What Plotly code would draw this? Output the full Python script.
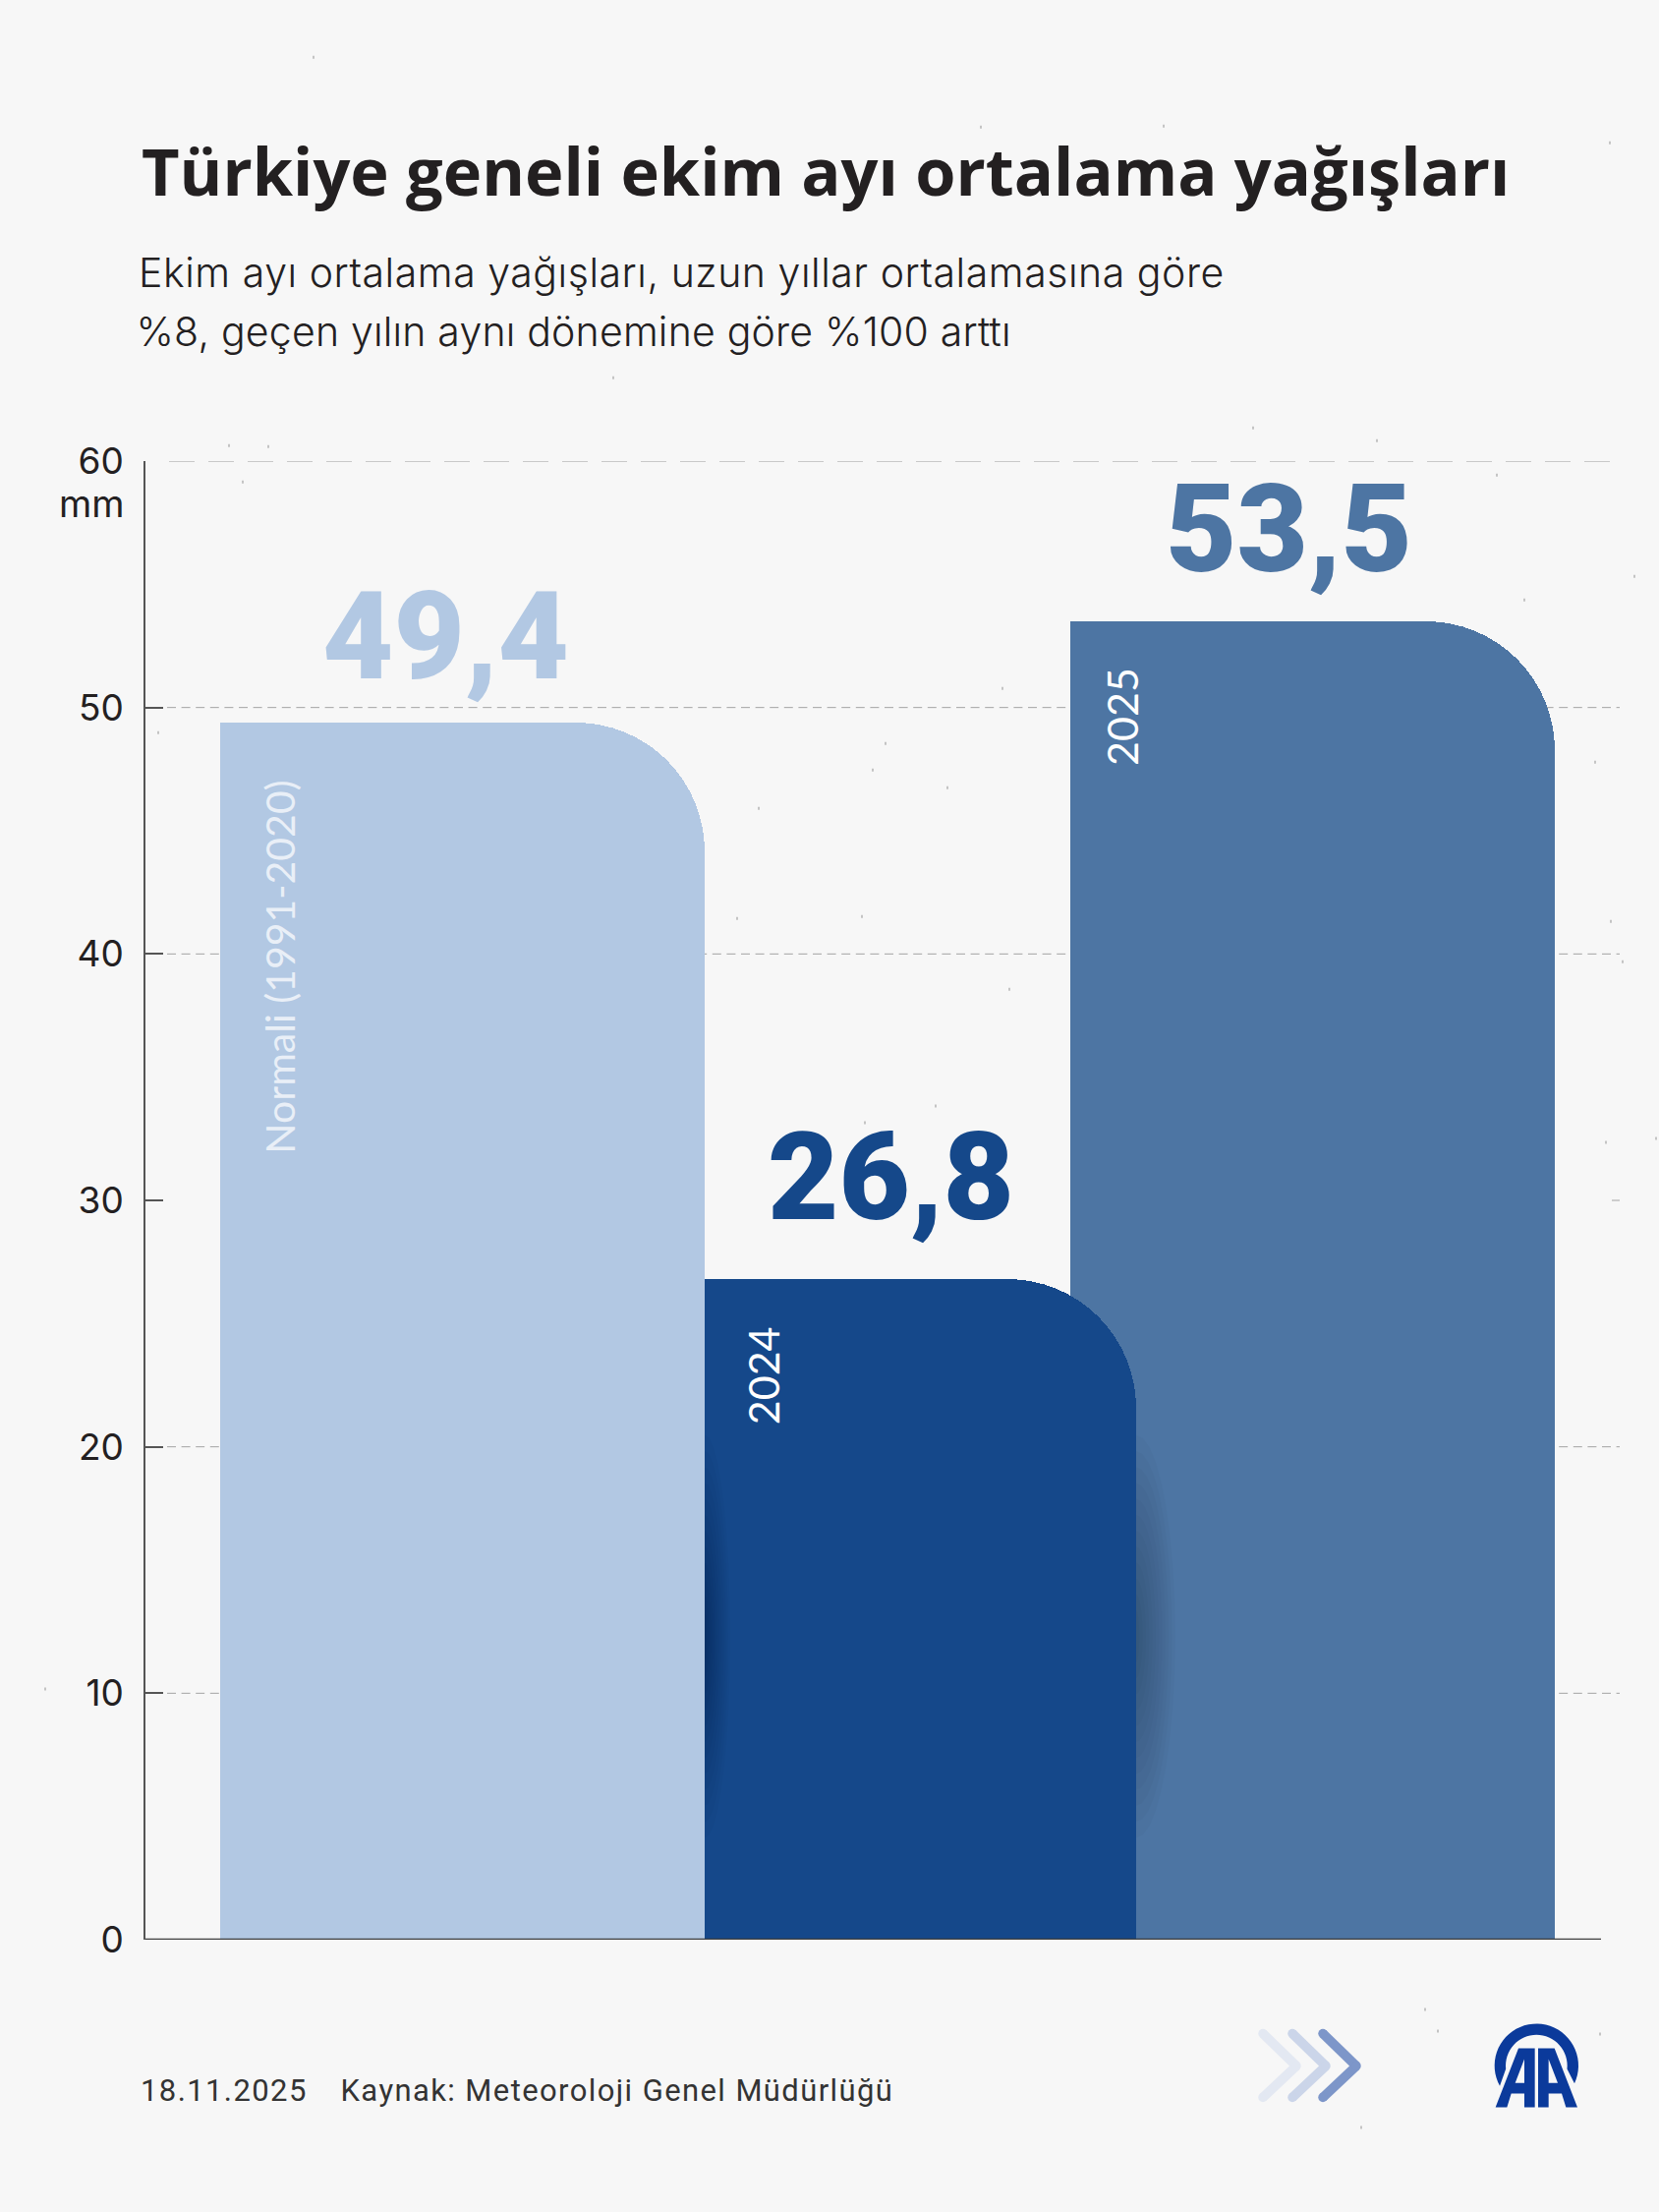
import math
import plotly.graph_objects as go

# values
categories = ["Normali (1991-2020)", "2024", "2025"]
values = [49.4, 26.8, 53.5]
value_labels = ["49,4", "26,8", "53,5"]
tick_vals = [0, 10, 20, 30, 40, 50, 60]
grid_vals = [10, 20, 40, 50]

title_text = "Türkiye geneli ekim ayı ortalama yağışları"
subtitle_lines = [
    "Ekim ayı ortalama yağışları, uzun yıllar ortalamasına göre",
    "%8, geçen yılın aynı dönemine göre %100 arttı",
]
footer_date = "18.11.2025"
footer_source = "Kaynak: Meteoroloji Genel Müdürlüğü"

# page layout, in pixels
W, H = 1688, 2250
PLOT_L, PLOT_R, PLOT_T, PLOT_B = 148, 1648, 469.3, 1973.5
AXIS_END = 1629
BAR_LEFT = [224, 717, 1089]
BAR_RIGHT = [717, 1156, 1582]
BAR_COLORS = ["#b2c8e3", "#15488a", "#4d75a3"]
LABEL_COLORS = ["#e9eff7", "#ffffff", "#ffffff"]
RADIUS = 131
DRAW_ORDER = [0, 2, 1]  # 2024 sits on top of the other two
VALUE_X = [453, 906, 1311]
VALUE_BASE_UP = [40, 56, 46]
NAME_X = [285, 776, 1142]
NAME_TOP_DOWN = [57, 46, 45]
NAME_SIZE = [41, 43, 43]

BG = "#f7f7f7"
TEXT = "#232021"
AXIS = "#555555"

SPECKS = [
    (233, 452), (247, 489), (273, 453), (1020, 699), (901, 755), (888, 782), (964, 800),
    (772, 821), (750, 933), (1027, 1005), (877, 931), (952, 1124), (880, 1141), (1663, 585),
    (1551, 609), (1623, 774), (1639, 936), (1651, 977), (1685, 1157), (1634, 1161),
    (1450, 2043), (1463, 2065), (1628, 2068), (1385, 2163), (319, 57), (161, 744),
    (46, 1717), (1638, 144), (998, 128), (1184, 127), (624, 383), (1275, 434), (1401, 447),
    (1523, 482),
]


def px(x):
    return (x - PLOT_L) / (PLOT_R - PLOT_L)


def py(y):
    return (PLOT_B - y) / (PLOT_B - PLOT_T)


def poly_path(points):
    return "M" + " L".join(f"{px(x):.5f},{py(y):.5f}" for x, y in points) + " Z"


fig = go.Figure()

# one rounded bar, then a plain half bar that squares off the top left corner
for i in DRAW_ORDER:
    w = BAR_RIGHT[i] - BAR_LEFT[i]
    fig.add_trace(go.Bar(
        x=[(BAR_LEFT[i] + BAR_RIGHT[i]) / 2], y=[values[i]], width=[w],
        name=categories[i], marker=dict(color=BAR_COLORS[i], cornerradius=RADIUS, line_width=0),
    ))
    fig.add_trace(go.Bar(
        x=[BAR_LEFT[i] + w / 4], y=[values[i]], width=[w / 2],
        name=categories[i], marker=dict(color=BAR_COLORS[i], line_width=0),
    ))

shapes = []

# paper specks
speck_path = " ".join(f"M{px(x):.5f},{py(y):.5f} L{px(x):.5f},{py(y + 3):.5f}" for x, y in SPECKS)
shapes.append(dict(type="path", xref="paper", yref="paper", path=speck_path,
                   line=dict(color="#c4c4c4", width=2), layer="below"))

# gridlines
for v in grid_vals:
    shapes.append(dict(type="line", xref="paper", yref="y", x0=px(170), x1=1, y0=v, y1=v,
                       line=dict(color="#a3a3a3", width=1, dash="9px,5.6px"), layer="below"))
shapes.append(dict(type="line", xref="paper", yref="y", x0=px(172), x1=1, y0=60, y1=60,
                   line=dict(color="#9c9c9c", width=1.2, dash="26px,14px"), layer="below"))
shapes.append(dict(type="line", xref="paper", yref="y", x0=px(1640), x1=1, y0=30, y1=30,
                   line=dict(color="#a3a3a3", width=1), layer="below"))

# x axis line
shapes.append(dict(type="line", xref="paper", yref="y", x0=0, x1=px(AXIS_END), y0=0, y1=0,
                   line=dict(color="#3f3f3f", width=2.5), layer="above"))


# soft shadow either side of the 2024 bar, stacked half ellipses
def half_ellipse(x_edge, rx, ry):
    return [(x_edge + rx * math.cos(math.radians(a)), 1665 + ry * math.sin(math.radians(a)))
            for a in range(-90, 91, 10)]


for k in range(12):
    t = 1 - k / 12
    for x_edge, reach in [(1156, 40), (717, 26)]:
        shapes.append(dict(type="path", xref="paper", yref="paper",
                           path=poly_path(half_ellipse(x_edge, reach * t, 195 * t + 10)),
                           fillcolor="#000000", opacity=0.018, line_width=0, layer="above"))

# chevrons
CHEV = [(1285, "#e3e8f2"), (1315, "#cbd5e9"), (1346, "#7d96c9")]
for x0, color in CHEV:
    a, b, c = (x0, 2069), (x0 + 34, 2102), (x0, 2134)
    for p, q in [(a, b), (b, c)]:
        shapes.append(dict(type="line", xref="paper", yref="paper",
                           x0=px(p[0]), y0=py(p[1]), x1=px(q[0]), y1=py(q[1]),
                           line=dict(color=color, width=9.5)))
    for p in (a, b, c):
        shapes.append(dict(type="circle", xref="paper", yref="paper",
                           x0=px(p[0] - 4.75), x1=px(p[0] + 4.75), y0=py(p[1] - 4.75), y1=py(p[1] + 4.75),
                           fillcolor=color, line_width=0))


# AA logo, coordinates relative to the logo box at 1.0/3 px per unit
def logo(u, v):
    return (1500 + u / 3, 2050 + v / 3)


LOGO_BLUE = "#0b3a9b"
ring = [(190 + 128 * math.cos(math.radians(a)), 155 - 128 * math.sin(math.radians(a)))
        for a in range(209, -30, -6)]
ring += [(190 + 94 * math.cos(math.radians(a)), 155 - 94 * math.sin(math.radians(a)))
         for a in range(-6, 187, 6)]
left_a = [(65, 282), (100, 282), (113, 240), (153, 240), (153, 282), (185, 282), (185, 102), (135, 102)]
left_hole = [(125, 208), (153, 135), (153, 208)]
right_a = [(315 + 65 - u, v) for u, v in left_a]
right_hole = [(315 + 65 - u, v) for u, v in left_hole]
logo_path = " ".join(poly_path([logo(u, v) for u, v in part]) for part in [ring, left_a, left_hole[::-1], right_a, right_hole])
shapes.append(dict(type="path", xref="paper", yref="paper", path=logo_path,
                   fillcolor=LOGO_BLUE, line_width=0))

annotations = []


def add_text(x, y, text, size, color=TEXT, family="Lato", weight=400, xanchor="left", yanchor="middle", **kw):
    annotations.append(dict(xref="paper", yref="paper", x=px(x), y=py(y), text=text, showarrow=False,
                            xanchor=xanchor, yanchor=yanchor,
                            font=dict(family=family, size=size, color=color, weight=weight), **kw))


add_text(142, 174, title_text, 66.7, family="Open Sans", weight=700)
add_text(155, 277, subtitle_lines[0], 41, family="Inter", weight=300)
add_text(141, 337, subtitle_lines[1], 41, family="Inter", weight=300)
add_text(129, 512, "mm", 38, family="Inter", xanchor="right")
add_text(148, 2127, footer_date, 31, family="Roboto", color="#333333")
add_text(369, 2127, footer_source, 31, family="Roboto", color="#333333")

for i in range(3):
    annotations.append(dict(xref="x", yref="y", x=VALUE_X[i], y=values[i], text=value_labels[i],
                            showarrow=False, xanchor="center", yanchor="bottom", yshift=VALUE_BASE_UP[i] - 28,
                            font=dict(family="Roboto", size=125, color=BAR_COLORS[i], weight=900)))
    annotations.append(dict(xref="x", yref="y", x=NAME_X[i], y=values[i], text=categories[i],
                            showarrow=False, xanchor="center", yanchor="top", textangle=-90,
                            yshift=-NAME_TOP_DOWN[i],
                            font=dict(family="Lato", size=NAME_SIZE[i], color=LABEL_COLORS[i])))

fig.update_layout(
    width=W, height=H,
    margin=dict(l=PLOT_L, r=W - PLOT_R, t=PLOT_T, b=H - PLOT_B, pad=0),
    paper_bgcolor=BG, plot_bgcolor="rgba(0,0,0,0)",
    barmode="overlay", bargap=0, showlegend=False,
    font=dict(family="Inter", color=TEXT),
    xaxis=dict(visible=False, range=[PLOT_L, PLOT_R], fixedrange=True),
    yaxis=dict(
        range=[0, 60], tickmode="array", tickvals=tick_vals, showgrid=False, zeroline=False,
        showline=True, linecolor=AXIS, linewidth=1.6,
        ticks="inside", ticklen=18, tickwidth=1.6, tickcolor=AXIS,
        ticklabelstandoff=13, tickfont=dict(family="Inter", size=37, color=TEXT),
    ),
    shapes=shapes, annotations=annotations,
)

# drop the browser's default body margin, and space some text out like the original
PAGE_JS = """
document.body.style.margin = '0';
document.querySelectorAll('.annotation-text').forEach(function (t) {
    var s = t.textContent;
    if (s.startsWith('18.11') || s.startsWith('Kaynak')) {
        t.style.letterSpacing = '1.4px';
    }
    if (s.startsWith('Ekim ayı')) {
        t.style.letterSpacing = '0.55px';
    }
    if (s.startsWith('%8')) {
        t.style.letterSpacing = '0.2px';
    }
});
"""
fig.write_html("out.html", config=dict(displayModeBar=False), post_script=PAGE_JS)
